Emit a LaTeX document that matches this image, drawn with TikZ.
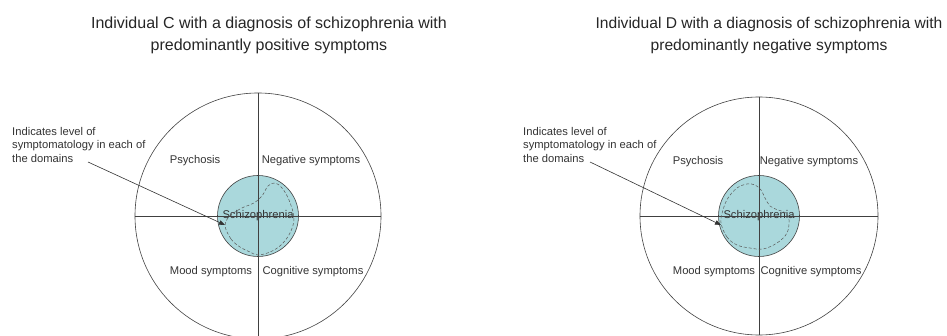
\documentclass[tikz,border=0pt]{standalone}
\usepackage{fontspec}
\setmainfont{Liberation Sans}
\usetikzlibrary{arrows.meta,positioning}
\definecolor{corefill}{RGB}{170,216,220}

\begin{document}
\begin{tikzpicture}[
        x=1pt, y=-1pt,
        every node/.style={font=\fontsize{11.2}{13.5}\selectfont, text=black!80},
        wheel/.style={
            circle,
            draw=black!75,
            line width=0.6pt,
            inner sep=0pt
        },
        core/.style={
            circle,
            draw=black!75,
            fill=corefill,
            line width=0.6pt,
            minimum size=81pt,
            inner sep=0pt
        },
        divider/.style={draw=black!75, line width=0.6pt},
        quadrant/.style={inner sep=1pt},
        profile/.style={densely dashed, draw=black!65, line width=0.5pt},
        pointer/.style={
            -{Triangle[length=6pt,width=4.5pt]},
            line width=0.6pt,
            draw=black!80
        },
        note/.style={align=left, inner sep=0pt, anchor=north west},
        heading/.style={align=center, text=black!85}
    ]
        \clip (0,0) rectangle (947,336);

        % Individual C: predominantly positive
        \node[heading, font=\fontsize{16}{22}\selectfont] (titleC) at (269,35)
            {Individual C with a diagnosis of schizophrenia with\\predominantly positive symptoms};
        \node[wheel, minimum size=246pt] (wheelC) at (258,216) {};
        \node[core] (coreC) at (258,216) {Schizophrenia};
        \draw[divider] (wheelC.north) -- (wheelC.south);
        \draw[divider] (wheelC.west) -- (wheelC.east);
        \draw[profile] plot[smooth cycle, tension=0.6] coordinates {
            (225,226) (231,239) (240,247) (250,252) (258,255) (270,252)
            (281,245) (290,233) (294,218) (289,200) (282,188) (275,183)
            (268,186) (262,196) (254,203) (244,207) (235,212) (228,218)};

        \node[quadrant] (psyC) at (195,161) {Psychosis};
        \node[quadrant] (negC) at (311,161) {Negative symptoms};
        \node[quadrant] (moodC) at (211,272) {Mood symptoms};
        \node[quadrant] (cogC) at (313,272) {Cognitive symptoms};

        \node[note] (noteC) at (12,127)
            {Indicates level of\\symptomatology in each of\\the domains};
        \coordinate (tailC) at (88,162);
        \coordinate (tipC) at (225,225);
        \draw[pointer] (tailC) -- (tipC);

        % Individual D: predominantly negative
        \node[heading, font=\fontsize{15.6}{22}\selectfont] (titleD) at (769,35)
            {Individual D with a diagnosis of schizophrenia with\\predominantly negative symptoms};
        \node[wheel, minimum size=238pt] (wheelD) at (759,216) {};
        \node[core] (coreD) at (759,216) {Schizophrenia};
        \draw[divider] (wheelD.north) -- (wheelD.south);
        \draw[divider] (wheelD.west) -- (wheelD.east);
        \draw[profile] plot[smooth cycle, tension=0.6] coordinates {
            (721,223) (727,237) (737,245) (750,248) (763,249) (777,243)
            (787,233) (789,220) (786,213) (778,210) (770,206) (765,198)
            (761,190) (755,185) (747,184) (737,188) (728,198) (723,210)};

        \node[quadrant] (psyD) at (698,162) {Psychosis};
        \node[quadrant] (negD) at (809,162) {Negative symptoms};
        \node[quadrant] (moodD) at (714,272) {Mood symptoms};
        \node[quadrant] (cogD) at (811,272) {Cognitive symptoms};

        \node[note] (noteD) at (523,127)
            {Indicates level of\\symptomatology in each of\\the domains};
        \coordinate (tailD) at (590,162);
        \coordinate (tipD) at (721,225);
        \draw[pointer] (tailD) -- (tipD);
    \end{tikzpicture}
\end{document}
